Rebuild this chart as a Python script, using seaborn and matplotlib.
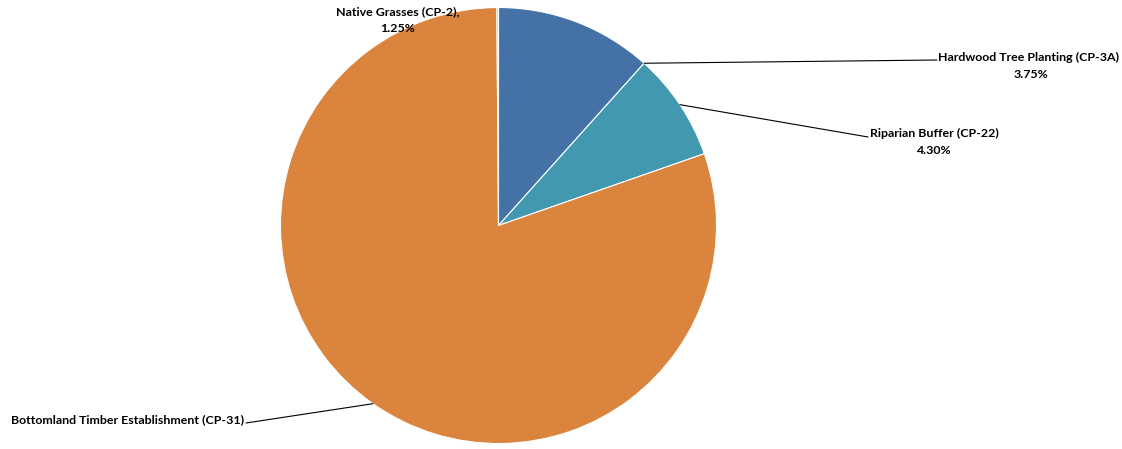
import matplotlib
matplotlib.use("Agg")
import matplotlib.pyplot as plt
import seaborn as sns
import numpy as np

sns.set_theme(style="white")
plt.rcParams["font.family"] = ["Lato", "DejaVu Sans"]

# ---- DATA (slice shares, label text as printed) ----
practices = ["Hardwood Tree Planting (CP-3A)", "Riparian Buffer (CP-22)",
             "Bottomland Timber Establishment (CP-31)", "Native Grasses (CP-2),"]
shares = [11.64, 8.02, 80.22, 0.12]
pct_labels = ["3.75%", "4.30%", "", "1.25%"]
colors = ["#4472A6", "#4299AF", "#DB843D", "#C7A3AE"]

W, H = 1122, 449
fig = plt.figure(figsize=(W / 100, H / 100), dpi=100)

# pie centre (498, 225) px, radius 218 px
cx, cy, r = 498.5, 225.5, 218
ax = fig.add_axes([(cx - r) / W, (H - cy - r) / H, 2 * r / W, 2 * r / H])
wedges, _ = ax.pie(shares, colors=colors, startangle=90, counterclock=False,
                   radius=1.0, wedgeprops=dict(edgecolor="white", linewidth=0.8))
ax.set_xlim(-1, 1)
ax.set_ylim(-1, 1)
ax.axis("off")

# clockwise angles (degrees from 12 o'clock) of slice boundaries
bounds = np.concatenate([[0], np.cumsum(shares)]) / sum(shares) * 360


def pix_of_angle(a):
    t = np.deg2rad(a)
    return cx + r * np.sin(t), cy - r * np.cos(t)


def to_fig(x, y):
    return x / W, 1 - y / H


# leader anchor angles: Excel put hardwood at its edge, the others at mid
anchors = [bounds[1], (bounds[1] + bounds[2]) / 2, (bounds[2] + bounds[3]) / 2, None]
line_ends = [(937, 60), (868, 137), (246, 423), None]
label_pos = [(938, 57, "left"), (870, 133, "left"), (11, 420, "left"), (398, 12, "center")]
pct_pos = [(1031, 74), (934, 150), None, (398, 29)]

fs = 8.9
for i, name in enumerate(practices):
    if anchors[i] is not None:
        ax_x, ax_y = pix_of_angle(anchors[i])
        ex, ey = line_ends[i]
        fx0, fy0 = to_fig(ax_x, ax_y)
        fx1, fy1 = to_fig(ex, ey)
        fig.add_artist(plt.Line2D([fx0, fx1], [fy0, fy1], color="black",
                                  linewidth=0.8, transform=fig.transFigure))
    lx, ly, ha = label_pos[i]
    fx, fy = to_fig(lx, ly)
    fig.text(fx, fy, name, ha=ha, va="center", fontsize=fs, fontweight="bold",
             color="black")
    if pct_pos[i] is not None:
        px, py = to_fig(*pct_pos[i])
        fig.text(px, py, pct_labels[i], ha="center", va="center", fontsize=fs,
                 fontweight="bold", color="black")

fig.savefig("out.png", dpi=100, facecolor="white")
